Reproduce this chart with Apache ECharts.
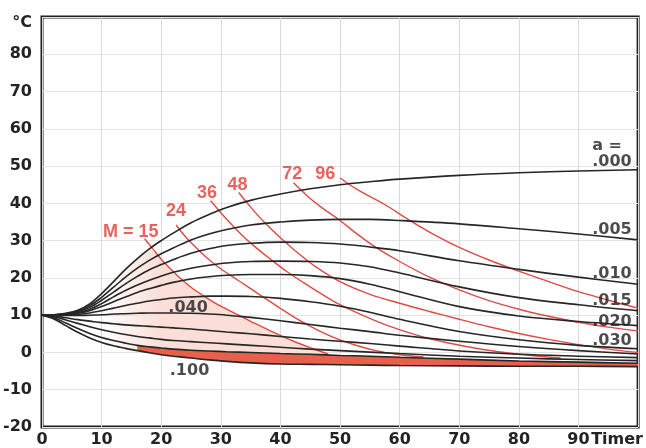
<!DOCTYPE html>
<html>
<head>
<meta charset="utf-8">
<script src="https://cdn.jsdelivr.net/npm/echarts@6/dist/echarts.min.js"></script>
<style>
  html, body { margin: 0; padding: 0; background: #ffffff; }
  #chart { width: 646px; height: 448px; }
</style>
</head>
<body>
<div id="chart"></div>
<script>
// Time axis (hours) shared by all cooling/heating curves
const hours = [0, 2, 4, 6, 8, 10, 12, 14, 16, 18, 20, 22, 25, 28, 31, 35, 40, 45, 50, 55, 60, 70, 80, 90, 100];

// Concrete temperature (°C) for each heat-loss coefficient a
const a000 = [10, 10.1, 10.5, 11.3, 13, 15.8, 19, 22.3, 25.2, 27.8, 30, 32, 34.8, 37, 38.9, 40.8, 42.5, 43.9, 45, 45.8, 46.5, 47.5, 48.2, 48.7, 49];
const a005 = [10, 10.1, 10.4, 11.1, 12.5, 14.8, 17.5, 20.2, 22.6, 24.7, 26.5, 28, 30.2, 31.8, 33, 34.2, 35, 35.5, 35.7, 35.7, 35.4, 34.5, 33.2, 31.8, 30.2];
const a010 = [10, 10.1, 10.3, 10.9, 12.1, 14, 16.2, 18.4, 20.4, 22.2, 23.6, 24.9, 26.6, 27.8, 28.7, 29.3, 29.6, 29.5, 29.1, 28.3, 27.3, 24.6, 22.3, 20.2, 18.3];
const a015 = [10, 10.1, 10.2, 10.7, 11.6, 13.1, 14.9, 16.6, 18.1, 19.4, 20.5, 21.5, 22.6, 23.4, 24, 24.4, 24.5, 24.4, 24, 23, 21.3, 17.6, 14.7, 12.8, 11.2];
const a020 = [10, 10, 10.1, 10.5, 11.2, 12.3, 13.6, 14.9, 16.1, 17.1, 18, 18.8, 19.7, 20.3, 20.7, 20.9, 20.9, 20.6, 19.8, 18.3, 16.3, 12.3, 9.8, 8.3, 7.2];
const a030 = [10, 10, 10, 10.2, 10.6, 11.2, 11.9, 12.6, 13.2, 13.8, 14.2, 14.6, 14.9, 15.1, 15.1, 15, 14.5, 13.6, 12.4, 10.8, 8.9, 5.6, 3.4, 1.9, 1.0];
const a040 = [10, 10, 9.9, 9.9, 10, 10.1, 10.3, 10.4, 10.5, 10.6, 10.6, 10.6, 10.5, 10.3, 10, 9.4, 8.5, 7.5, 6.5, 5.6, 4.6, 3.0, 1.6, 0.5, -0.4];
const a050 = [10, 9.8, 9.3, 8.8, 8.4, 8, 7.7, 7.4, 7.2, 7, 6.8, 6.6, 6.3, 5.9, 5.5, 5, 4.3, 3.6, 3, 2.4, 1.7, 0.4, -0.5, -1.0, -1.4];
const a060 = [10, 9.6, 8.7, 7.8, 6.9, 6.1, 5.4, 4.8, 4.3, 3.9, 3.5, 3.2, 2.9, 2.6, 2.3, 1.9, 1.4, 0.9, 0.5, 0.1, -0.3, -1.0, -1.5, -1.9, -2.2];
const a080 = [10, 9.3, 7.9, 6.4, 5.1, 4, 3.2, 2.5, 1.9, 1.5, 1.2, 0.9, 0.6, 0.4, 0.2, 0, -0.3, -0.5, -0.8, -1.0, -1.3, -1.8, -2.3, -2.6, -2.9];
const a100 = [10, 9, 7.2, 5.4, 3.9, 2.7, 1.8, 1.1, 0.5, -0.1, -0.6, -1.0, -1.5, -2.0, -2.4, -2.8, -3.1, -3.2, -3.3, -3.4, -3.5, -3.6, -3.7, -3.7, -3.8];

// Maturity isolines M, as [hours, °C] points
const m15 = [[17.2, 30.5], [18.5, 28], [20, 25], [21.5, 22.5], [23, 20.2], [25, 17.5], [27.5, 14.8], [30, 12.4], [33, 10], [36, 7.6], [39, 5.3], [42.5, 2.8], [45.5, 1.0], [48, -0.4]];
const m24 = [[22.5, 34.2], [24, 31.2], [25.8, 28.2], [27.5, 25.6], [29.5, 23], [31.5, 20.8], [34, 18.2], [37, 15], [40, 11.8], [43, 8.8], [46, 6.2], [49, 4], [52.5, 2], [56, 0.5], [60, -0.6], [64, -1.2]];
const m36 = [[28.3, 40.7], [30, 37.5], [32, 34], [34, 30.8], [36, 28], [38.5, 24.8], [41, 21.8], [44, 18.6], [47, 15.6], [50, 12.8], [54, 9.8], [58, 7.2], [63, 4.6], [68, 2.6], [74, 0.8], [80, -0.5], [87, -1.5]];
const m48 = [[33, 42.9], [35, 39], [37.5, 34.6], [40, 30.8], [43, 26.6], [46, 22.9], [50, 19], [55, 15.6], [60, 13.2], [65, 11], [70, 8.9], [75, 6.9], [80, 5.1], [85, 3.5], [90, 2.1], [95, 0.9], [100, 0]];
const m72 = [[42.2, 45.5], [44.5, 42], [47, 38.8], [50, 35.4], [53, 31.6], [56, 28.2], [60, 24.4], [65, 20.2], [70, 16.8], [75, 13.9], [80, 11.6], [85, 9.7], [90, 8.1], [95, 6.8], [100, 5.8]];
const m96 = [[50, 46.8], [53, 43.6], [57.5, 39.7], [61, 36.1], [65, 32.3], [70, 28.2], [75, 24.8], [80, 21.8], [85, 19], [90, 16.3], [95, 14], [100, 11.9]];

// Curve annotations: [hours, °C, text]
const aLabelsRight = [[92.3, 55.4, 'a ='], [92.3, 51.1, '.000'], [92.3, 33.0, '.005'], [92.3, 21.1, '.010'], [92.3, 13.9, '.015'], [92.3, 8.3, '.020'], [92.3, 3.0, '.030']];
const aLabelsInner = [[24.5, 12.1, '.040'], [24.75, -4.9, '.100']];
const mLabels = [[14.9, 32.3, 'M = 15'], [22.5, 37.9, '24'], [27.7, 42.7, '36'], [32.8, 44.9, '48'], [42, 47.8, '72'], [47.5, 47.8, '96']];

// Axis tick labels
const yTop = 90, yUnit = '°C';
const xRight = 100, xUnit = 'Timer';

const blackCurves = [a000, a005, a010, a015, a020, a030, a040, a050, a060, a080, a100];
const redCurves = [m15, m24, m36, m48, m72, m96];

function valueAt(ys, x) {
  for (let i = 1; i < hours.length; i++) {
    if (x <= hours[i]) {
      const t = (x - hours[i - 1]) / (hours[i] - hours[i - 1]);
      return ys[i - 1] + t * (ys[i] - ys[i - 1]);
    }
  }
  return ys[ys.length - 1];
}

// Shaded zone below the M = 15 isoline, fading in from the left
const pinkFrom = 10, pinkFull = 20;
const m15End = m15[m15.length - 1];
const pinkZone = hours.filter(h => h >= pinkFrom && h < m15[0][0]).map(h => [h, valueAt(a000, h)])
  .concat(m15.filter(p => p[1] <= valueAt(a000, p[0])))
  .concat([[m15End[0], valueAt(a100, m15End[0])]])
  .concat(hours.filter(h => h >= pinkFrom && h < m15End[0]).reverse().map(h => [h, valueAt(a100, h)]));

// Frost band between the two lowest curves, from 16 h onwards
const bandStart = 16;
const bandHours = hours.filter(h => h >= bandStart);
const frostBand = bandHours.map(h => [h, valueAt(a080, h)])
  .concat(bandHours.slice().reverse().map(h => [h, valueAt(a100, h)]));

function polygonSeries(points, fillFn, z) {
  return {
    type: 'custom',
    silent: true,
    z: z,
    data: [[50, 0]],
    renderItem: function (params, api) {
      return {
        type: 'polygon',
        shape: { points: points.map(p => api.coord(p)) },
        style: { fill: fillFn(api), stroke: null }
      };
    }
  };
}

const axisFont = { fontFamily: 'DejaVu Sans', fontWeight: 'bold', fontSize: 16, color: '#232323' };

const series = [];
series.push(polygonSeries(pinkZone, function (api) {
  const p0 = api.coord([pinkFrom, 0]), p1 = api.coord([pinkFull, 0]);
  return new echarts.graphic.LinearGradient(p0[0], 0, p1[0], 0, [
    { offset: 0, color: 'rgba(250,222,215,0)' },
    { offset: 1, color: 'rgba(250,222,215,1)' }
  ], true);
}, 1));
series.push(polygonSeries(frostBand, () => '#e8604c', 2));

redCurves.forEach(function (pts) {
  series.push({
    type: 'line', data: pts, smooth: 0.35, symbol: 'none', silent: true, z: 3,
    lineStyle: { color: '#de4a45', width: 1.4 }
  });
});

blackCurves.forEach(function (ys) {
  series.push({
    type: 'line', data: hours.map((h, i) => [h, ys[i]]), smooth: 0.35, symbol: 'none', silent: true, z: 4,
    lineStyle: { color: '#262626', width: 1.6 }
  });
});

function textSeries(items, font, color, align) {
  return {
    type: 'scatter', data: items, symbolSize: 0, silent: true, z: 6,
    label: {
      show: true, position: 'inside', align: align, verticalAlign: 'middle',
      formatter: p => p.value[2],
      fontFamily: font.fontFamily, fontWeight: 'bold', fontSize: font.fontSize, color: color
    }
  };
}

series.push(textSeries(aLabelsRight, { fontFamily: 'DejaVu Sans', fontSize: 16 }, '#1e1e1e', 'left'));
series.push(textSeries(aLabelsInner, { fontFamily: 'DejaVu Sans', fontSize: 16 }, '#1e1e1e', 'center'));
series.push(textSeries(mLabels, { fontFamily: 'Liberation Sans', fontSize: 18 }, '#e53a35', 'center'));

const chart = echarts.init(document.getElementById('chart'), null, { renderer: 'canvas' });
chart.setOption({
  animation: false,
  backgroundColor: '#ffffff',
  grid: { left: 42, right: 4, top: 17, bottom: 14.5, show: true, borderColor: '#1f1f1f', borderWidth: 3, containLabel: false },
  xAxis: {
    type: 'value', min: 0, max: xRight, interval: 10,
    axisLine: { show: false }, axisTick: { show: false },
    splitLine: { show: true, lineStyle: { color: '#dadada', width: 1 } },
    axisLabel: Object.assign({}, axisFont, {
      margin: 5,
      formatter: v => v === xRight ? '{u|' + xUnit + '}' : String(v),
      rich: { u: Object.assign({}, axisFont, { padding: [0, 42, 0, 0] }) }
    })
  },
  yAxis: {
    type: 'value', min: -20, max: yTop, interval: 10,
    axisLine: { show: false }, axisTick: { show: false },
    splitLine: { show: true, lineStyle: { color: '#e3e3e3', width: 1 } },
    axisLabel: Object.assign({}, axisFont, {
      margin: 10,
      formatter: v => v === yTop ? '{u|' + yUnit + '}' : String(v),
      rich: { u: Object.assign({}, axisFont, { padding: [12, 0, 0, 0] }) }
    })
  },
  series: series
});
</script>
</body>
</html>
